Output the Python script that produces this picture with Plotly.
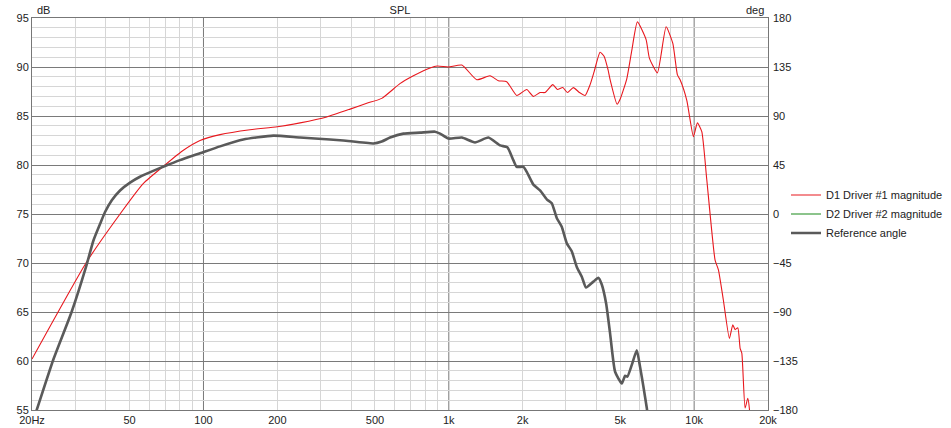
import plotly.graph_objects as go

# D1 Driver #1 magnitude (dB SPL)
d1_freq = [20, 33.2, 45.7, 56.8, 69.7, 82.8, 96.8, 116.8, 154.8, 200, 247.6, 318, 396, 463,
           533, 632, 717, 839, 898, 996, 1130, 1300, 1472, 1592, 1722, 1892, 2078, 2211,
           2354, 2468, 2654, 2770, 2914, 3044, 3218, 3406, 3594, 3766, 3909, 4136, 4294,
           4458, 4544, 4852, 4990, 5314, 5570, 5871, 6370, 6570, 7081, 7686, 8186, 8546,
           8766, 9334, 9932, 10310, 10744, 11260, 12170, 12558, 13158, 13920, 14374,
           14688, 15066, 15394, 15642, 16130, 16540, 16800, 17100]
d1_db = [60.2, 70.0, 75.0, 78.1, 80.0, 81.5, 82.5, 83.1, 83.6, 83.9, 84.3, 84.9, 85.7, 86.3,
         86.8, 88.3, 89.1, 89.9, 90.1, 90.0, 90.2, 88.7, 89.1, 88.6, 88.5, 87.1, 87.7, 87.0,
         87.4, 87.4, 88.2, 87.7, 87.9, 87.4, 87.9, 87.4, 87.1, 88.2, 89.5, 91.5, 91.1,
         89.7, 88.7, 86.2, 86.7, 88.8, 91.7, 94.6, 92.8, 90.9, 89.4, 94.1, 92.4, 89.2,
         88.7, 86.6, 82.9, 84.3, 83.4, 78.5, 70.3, 69.3, 66.2, 62.3, 63.7,
         63.2, 63.4, 61.3, 60.8, 55.2, 56.2, 55.1, 50.0]

# Reference angle curve (drawn on the dB scale)
ref_freq = [20, 20.9, 24.4, 29.0, 33.2, 35.6, 37.9, 39.7, 42.3, 45.7, 50.2, 55.1, 62.4,
            69.7, 80.2, 96.8, 116.8, 145.3, 192.6, 247.6, 328, 371.6, 492.6, 533, 576,
            652.8, 763, 879, 921, 996, 1130, 1279, 1450, 1618, 1732, 1832, 1892, 2013,
            2078, 2211, 2354, 2508, 2628, 2754, 2886, 3026, 3170, 3324, 3484, 3626, 3884,
            4070, 4202, 4376, 4544, 4762, 5072, 5230, 5344, 5570, 5836, 6020, 6210, 6412,
            6750]
ref_db = [53.6, 55.0, 60.1, 65.0, 69.6, 72.3, 74.0, 75.2, 76.4, 77.4, 78.2, 78.8, 79.4,
          79.9, 80.5, 81.2, 81.9, 82.6, 83.0, 82.8, 82.6, 82.5, 82.2, 82.4, 82.8,
          83.2, 83.3, 83.4, 83.2, 82.7, 82.8, 82.3, 82.8, 82.0, 81.8, 80.5, 79.8, 79.8,
          79.3, 78.0, 77.4, 76.5, 76.1, 74.6, 73.7, 72.0, 71.2, 69.6, 68.6, 67.5, 68.1,
          68.5, 67.8, 65.9, 62.8, 58.9, 57.7, 58.5, 58.4, 59.6, 61.1, 59.4, 57.4, 55.2,
          51.0]

x_tickvals = [20, 50, 100, 200, 500, 1000, 2000, 5000, 10000, 20000]
x_ticktext = ["20Hz", "50", "100", "200", "500", "1k", "2k", "5k", "10k", "20k"]
x_minor = [d * 10 ** k for k in range(1, 5) for d in range(2, 10) if 20 <= d * 10 ** k <= 20000]
x_major = [100, 1000, 10000]
deg_ticks = [-180, -135, -90, -45, 0, 45, 90, 135, 180]

font = "Liberation Sans, Arial, sans-serif"

fig = go.Figure()

fig.add_trace(
    go.Scatter(
        x=d1_freq, y=d1_db,
        mode="lines",
        line=dict(color="#e8181e", width=1.1, shape="spline", smoothing=0.5),
        name="D1 Driver #1 magnitude"
    )
)

fig.add_trace(
    go.Scatter(
        x=[None], y=[None],
        mode="lines",
        line=dict(color="#1a8a1a", width=1.1),
        name="D2 Driver #2 magnitude",
        yaxis="y2"
    )
)

fig.add_trace(
    go.Scatter(
        x=ref_freq, y=ref_db,
        mode="lines",
        line=dict(color="#5a5a5a", width=2.6, shape="spline", smoothing=0.5),
        name="Reference angle"
    )
)

for f in x_major:
    fig.add_shape(
        type="line", xref="x", yref="paper",
        x0=f, x1=f, y0=0, y1=1,
        line=dict(color="#7a7a7a", width=1),
        layer="between"
    )

fig.update_layout(
    width=951, height=428,
    margin=dict(l=32, r=183, t=18, b=18),
    paper_bgcolor="white",
    plot_bgcolor="white",
    font=dict(family=font, size=11, color="#222222"),
    title=dict(text="SPL", x=0.5, xref="paper", y=0.985, yanchor="top",
               font=dict(size=11, color="#222222")),
    xaxis=dict(
        type="log",
        range=[1.30103, 4.30103],
        tickvals=x_tickvals, ticktext=x_ticktext,
        showgrid=False,
        minor=dict(tickvals=x_minor, showgrid=True, gridcolor="#d6d6d6", gridwidth=1),
        showline=True, linecolor="#777777", mirror=True,
        ticks="", zeroline=False, automargin=False
    ),
    yaxis=dict(
        range=[55, 95],
        dtick=5,
        gridcolor="#7a7a7a",
        minor=dict(dtick=1, showgrid=True, gridcolor="#d6d6d6"),
        showline=True, linecolor="#777777", mirror=True,
        ticks="", zeroline=False, automargin=False
    ),
    yaxis2=dict(
        range=[-180, 180],
        tickvals=deg_ticks,
        overlaying="y", side="right",
        showgrid=False, zeroline=False,
        ticks="", ticklabelstandoff=4, automargin=False
    ),
    legend=dict(
        xref="container", yref="container",
        x=0.8265, y=0.5, xanchor="left", yanchor="middle",
        bgcolor="rgba(0,0,0,0)",
        font=dict(size=11, color="#222222"),
        tracegroupgap=0, itemwidth=30
    ),
    annotations=[
        dict(text="dB", xref="paper", yref="paper", x=0, y=1, xshift=3,
             xanchor="left", yanchor="bottom", showarrow=False,
             font=dict(size=11, color="#222222")),
        dict(text="deg", xref="paper", yref="paper", x=1, y=1, xshift=-2,
             xanchor="right", yanchor="bottom", showarrow=False,
             font=dict(size=11, color="#222222"))
    ]
)

fig.write_html(
    "out.html",
    config={"displayModeBar": False},
    post_script="document.body.style.margin='0';document.body.style.overflow='hidden';"
)
